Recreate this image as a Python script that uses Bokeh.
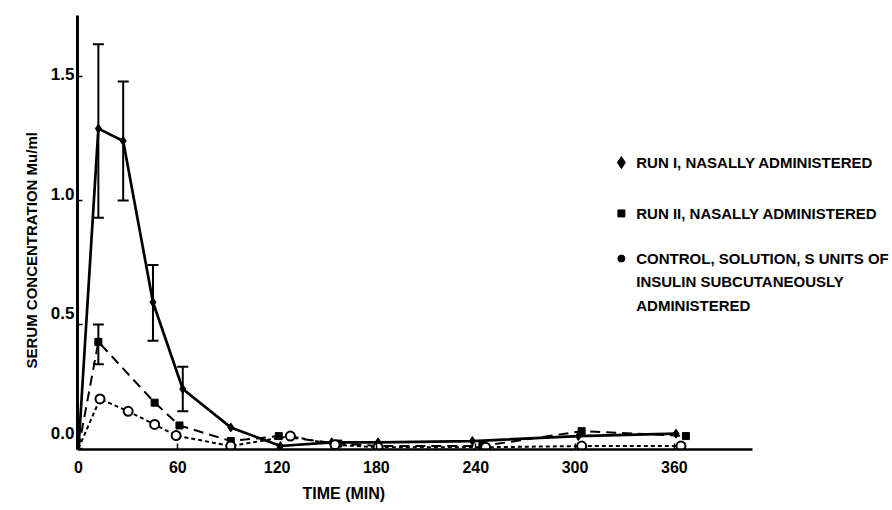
from bokeh.plotting import figure
from bokeh.models import (Range1d, LinearAxis, FixedTicker, NumeralTickFormatter,
                          Whisker, ColumnDataSource, Label, TeeHead, Title,
                          CustomLabelingPolicy)
from bokeh.embed import file_html
from bokeh.resources import INLINE

# ---------------- data ----------------
x_ticks = [0, 60, 120, 180, 240, 300, 360]
y_ticks = [0.0, 0.5, 1.0, 1.5]

run1_t = [0, 12, 27, 45, 63, 92, 122, 153, 181, 238, 302, 361]
run1_v = [0, 1.29, 1.24, 0.59, 0.24, 0.085, 0.01, 0.025, 0.025, 0.03, 0.05, 0.06]
run1_err_t = [12, 27, 45, 63]
run1_err_lo = [0.93, 1.00, 0.435, 0.15]
run1_err_hi = [1.63, 1.48, 0.74, 0.33]

run2_t = [0, 12, 46, 61, 92, 121, 157, 181, 244, 304, 367]
run2_v = [0, 0.43, 0.185, 0.093, 0.03, 0.05, 0.02, 0.01, 0.01, 0.07, 0.05]
run2_err_t = [12]
run2_err_lo = [0.34]
run2_err_hi = [0.50]

ctrl_t = [0, 13, 30, 46, 59, 92, 128, 155, 181, 246, 304, 364]
ctrl_v = [0, 0.20, 0.15, 0.097, 0.052, 0.01, 0.05, 0.015, 0.005, 0.005, 0.01, 0.01]

legend_labels = ["RUN I, NASALLY ADMINISTERED",
                 "RUN II, NASALLY ADMINISTERED",
                 "CONTROL, SOLUTION, S UNITS OF",
                 "INSULIN SUBCUTANEOUSLY",
                 "ADMINISTERED"]
x_title = "TIME (MIN)"
y_title = "SERUM CONCENTRATION Mu/ml"

FONT = "Liberation Sans"

HIDE_ALL = """
    const all = [...indices];
    for (const i of all) { indices.unset(i); }
    return indices;
"""

p = figure(width=892, height=510, output_backend="svg", toolbar_location=None,
           title=None,
           x_range=Range1d(-0.6, 491.8), y_range=Range1d(-0.004, 1.746),
           min_border_left=77, min_border_right=0, min_border_top=15,
           min_border_bottom=61)
p.grid.visible = False
p.outline_line_color = None
p.background_fill_color = "white"
p.border_fill_color = "white"

# x axis
xa = p.xaxis[0]
xa.ticker = FixedTicker(ticks=x_ticks)
xa.bounds = (-0.6, 407)
xa.axis_line_width = 2.5
xa.axis_line_color = "black"
xa.major_tick_in = 6
xa.major_tick_out = 0
xa.major_tick_line_width = 1.5
xa.minor_tick_line_color = None
xa.major_label_text_font = FONT
xa.major_label_text_font_style = "bold"
xa.major_label_text_font_size = "16px"
xa.major_label_text_color = "black"
xa.major_label_standoff = 11

# y axis (tick marks only, labels suppressed)
ya = p.yaxis[0]
ya.ticker = FixedTicker(ticks=y_ticks)
ya.axis_line_width = 3
ya.axis_line_color = "black"
ya.major_tick_in = 5
ya.major_tick_out = 0
ya.major_tick_line_width = 1.5
ya.minor_tick_line_color = None
ya.major_label_standoff = 0
ya.major_label_text_font_size = "0px"
ya.major_label_policy = CustomLabelingPolicy(code=HIDE_ALL)

# y labels (slightly offset as in the scanned figure)
p.extra_y_ranges = {"lbl": Range1d(-0.0667, 1.7417)}
la = LinearAxis(y_range_name="lbl", ticker=FixedTicker(ticks=y_ticks),
                formatter=NumeralTickFormatter(format="0.0"),
                axis_line_color=None, major_tick_line_color=None,
                minor_tick_line_color=None, major_tick_in=0, major_tick_out=0,
                major_label_standoff=3, major_label_text_font=FONT,
                major_label_text_font_style="bold",
                major_label_text_font_size="17px",
                major_label_text_color="black")
p.add_layout(la, "left")

# empty axis that only reserves room between the labels and the y title
gap = LinearAxis(ticker=FixedTicker(ticks=y_ticks), axis_line_color=None,
                 major_tick_line_color=None, minor_tick_line_color=None,
                 major_tick_in=0, major_tick_out=0, major_label_standoff=4,
                 major_label_text_font_size="1px",
                 major_label_policy=CustomLabelingPolicy(code=HIDE_ALL))
p.add_layout(gap, "left")

# axis titles
p.add_layout(Title(text=y_title, align="left", offset=81, standoff=0,
                   text_font=FONT, text_font_style="bold",
                   text_font_size="15px", text_color="black"), "left")
p.add_layout(Title(text=x_title, align="left", offset=225, standoff=14,
                   text_font=FONT, text_font_style="bold",
                   text_font_size="16px", text_color="black"), "below")

# series
p.line(run1_t, run1_v, line_color="black", line_width=2.7)
p.scatter(run1_t[1:], run1_v[1:], marker="diamond", size=9, color="black")

p.line(run2_t, run2_v, line_color="black", line_width=2, line_dash="10 6")
p.scatter(run2_t[1:], run2_v[1:], marker="square", size=7, color="black")

p.line(ctrl_t, ctrl_v, line_color="black", line_width=2, line_dash="4 3")
p.scatter(ctrl_t[1:], ctrl_v[1:], marker="circle", size=9, line_color="black",
          line_width=2, fill_color="white")

for et, lo, hi in ((run1_err_t, run1_err_lo, run1_err_hi),
                   (run2_err_t, run2_err_lo, run2_err_hi)):
    src = ColumnDataSource(dict(t=et, lo=lo, hi=hi))
    p.add_layout(Whisker(base="t", lower="lo", upper="hi", source=src,
                         line_color="black", line_width=2,
                         upper_head=TeeHead(size=11, line_width=2, line_color="black"),
                         lower_head=TeeHead(size=11, line_width=2, line_color="black")))

# legend (markers + texts), layout positions in data units
LEG_MX, LEG_TX = 328, 337
leg_rows_y = [1.153, 0.948, 0.766, 0.673, 0.577]
p.scatter([LEG_MX], [leg_rows_y[0]], marker="diamond", size=12, color="black")
p.scatter([LEG_MX], [leg_rows_y[1]], marker="square", size=7, color="black")
p.scatter([LEG_MX], [leg_rows_y[2]], marker="circle", size=7, color="black")
for txt, yy in zip(legend_labels, leg_rows_y):
    p.add_layout(Label(x=LEG_TX, y=yy, text=txt, text_align="left",
                       text_baseline="middle", text_font=FONT,
                       text_font_style="bold", text_font_size="15px",
                       text_color="black"))

open("out.html", "w").write(file_html(p, INLINE))
